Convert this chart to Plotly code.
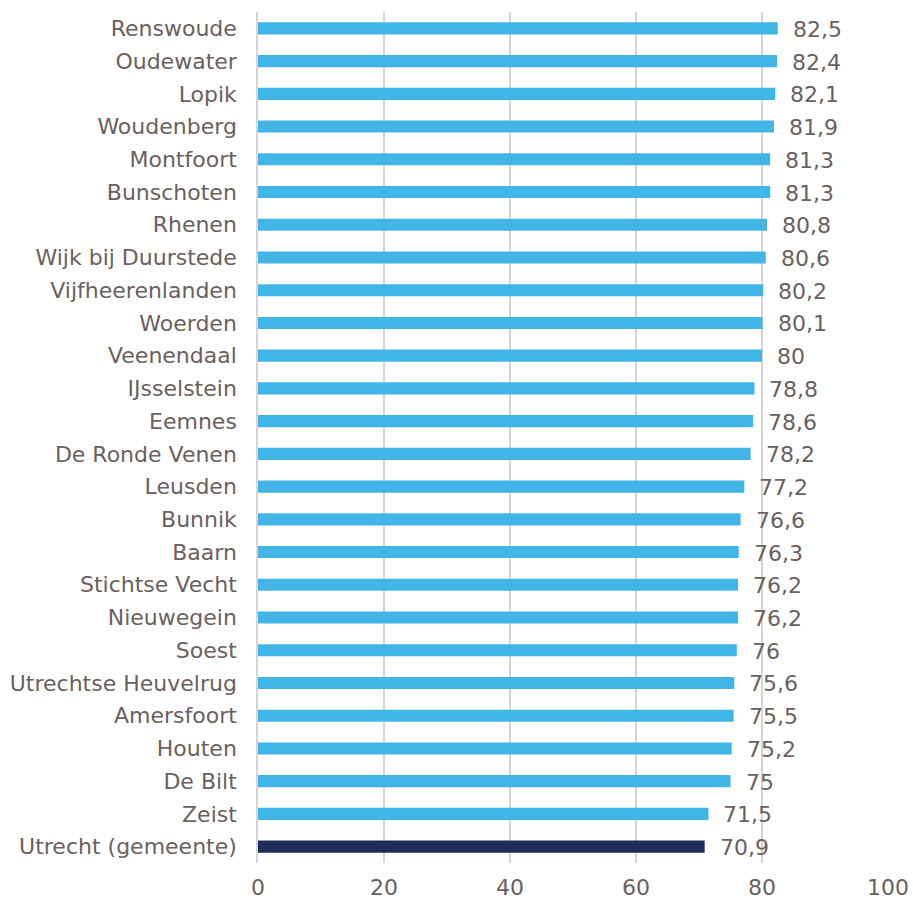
import plotly.graph_objects as go

categories = ["Renswoude", "Oudewater", "Lopik", "Woudenberg", "Montfoort", "Bunschoten",
              "Rhenen", "Wijk bij Duurstede", "Vijfheerenlanden", "Woerden", "Veenendaal",
              "IJsselstein", "Eemnes", "De Ronde Venen", "Leusden", "Bunnik", "Baarn",
              "Stichtse Vecht", "Nieuwegein", "Soest", "Utrechtse Heuvelrug", "Amersfoort",
              "Houten", "De Bilt", "Zeist", "Utrecht (gemeente)"]
values = [82.5, 82.4, 82.1, 81.9, 81.3, 81.3, 80.8, 80.6, 80.2, 80.1, 80.0, 78.8, 78.6,
          78.2, 77.2, 76.6, 76.3, 76.2, 76.2, 76.0, 75.6, 75.5, 75.2, 75.0, 71.5, 70.9]
x_ticks = [0, 20, 40, 60, 80, 100]

LIGHT = "#41b6e6"
DARK = "#1f2d5a"
TEXT = "#6b6060"
GRID = "#d9d4d4"
FONT = "DejaVu Sans"
FS = 22

colors = [DARK if c.startswith("Utrecht (") else LIGHT for c in categories]

def fmt(v):
    s = ("%.1f" % v).rstrip("0").rstrip(".")
    return s.replace(".", ",")

fig = go.Figure()
fig.add_trace(go.Bar(
    x=values, y=categories, orientation="h",
    marker=dict(color=colors, line=dict(width=0)),
    width=0.37, hoverinfo="skip",
))

for c, v in zip(categories, values):
    fig.add_annotation(x=v, y=c, text=fmt(v), showarrow=False, xanchor="left",
                       xshift=13, yshift=-1, font=dict(family=FONT, size=FS, color=TEXT))

fig.update_layout(
    width=913, height=901,
    margin=dict(l=258, r=25, t=12, b=38),
    paper_bgcolor="white", plot_bgcolor="white",
    showlegend=False,
    font=dict(family=FONT, size=FS, color=TEXT),
    xaxis=dict(range=[0, 100], tickvals=x_ticks, ticktext=[str(t) for t in x_ticks],
               showgrid=True, gridcolor=GRID, gridwidth=1.5, zeroline=False,
               showline=False, ticks="outside", ticklen=5, tickcolor="rgba(0,0,0,0)",
               tickfont=dict(family=FONT, size=FS, color=TEXT), fixedrange=True,
               automargin=False),
    yaxis=dict(categoryorder="array", categoryarray=categories[::-1],
               range=[-0.5, len(categories) - 0.5],
               showgrid=False, zeroline=False, showline=True, linecolor=GRID, linewidth=1.5,
               ticks="outside", ticklen=15, tickcolor="rgba(0,0,0,0)",
               tickfont=dict(family=FONT, size=FS, color=TEXT), fixedrange=True,
               automargin=False),
)

fig.write_html("out.html", config={"displayModeBar": False},
               post_script="document.body.style.margin='0';document.body.style.overflow='hidden';")
